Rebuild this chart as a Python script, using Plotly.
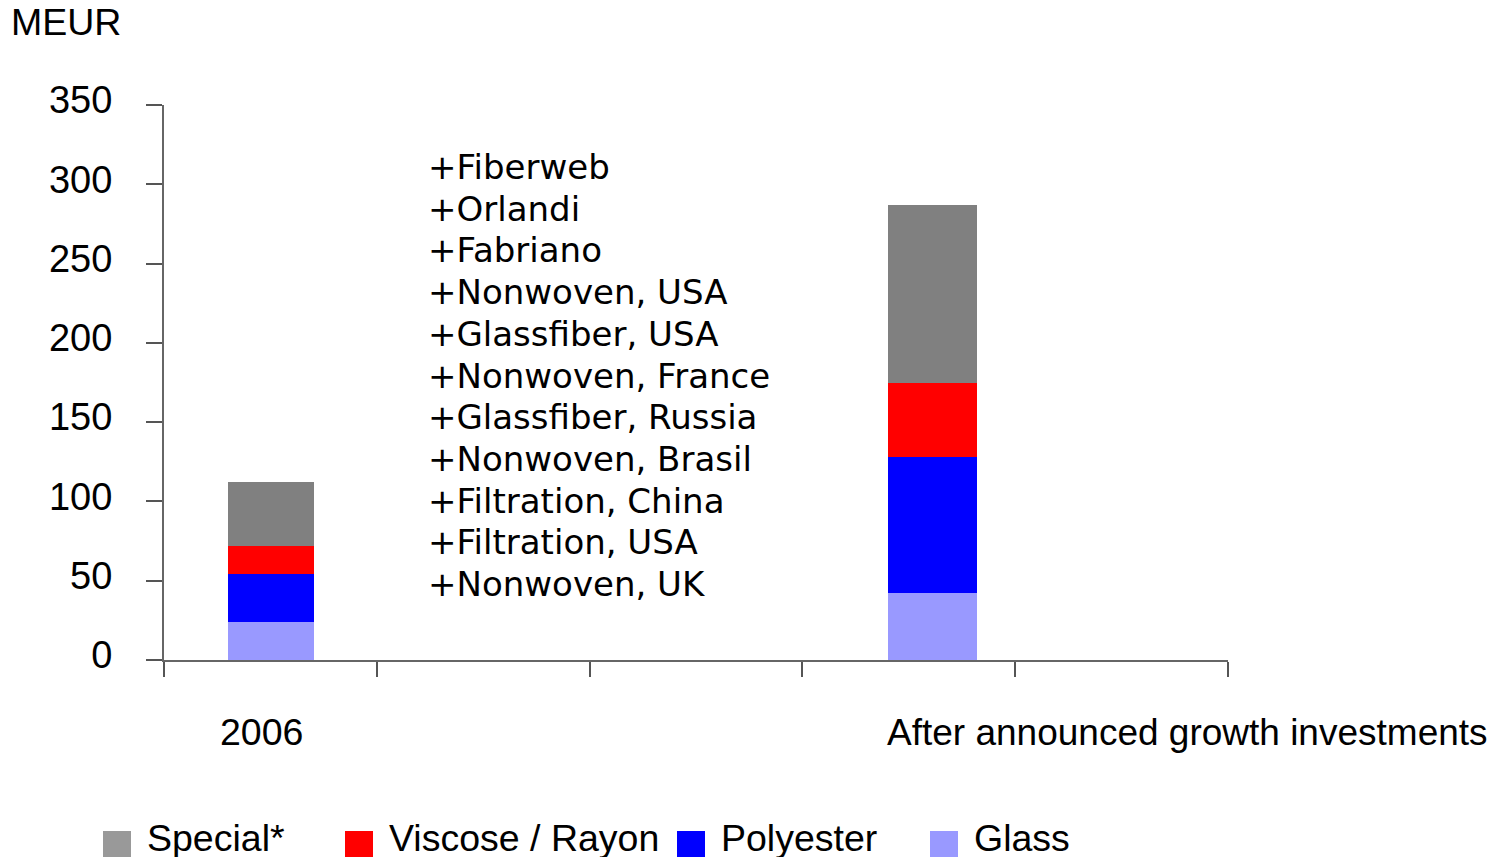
import plotly.graph_objects as go

# ---- data ----
categories = ["2006", "After announced growth investments"]
glass = [24, 42]
polyester = [30, 86]
viscose = [18, 47]
special = [40, 112]
series_names = ["Glass", "Polyester", "Viscose / Rayon", "Special*"]
y_ticks = [0, 50, 100, 150, 200, 250, 300, 350]
acquisitions = ["+Fiberweb", "+Orlandi", "+Fabriano", "+Nonwoven, USA",
                "+Glassfiber, USA", "+Nonwoven, France", "+Glassfiber, Russia",
                "+Nonwoven, Brasil", "+Filtration, China", "+Filtration, USA",
                "+Nonwoven, UK"]

# ---- layout helpers ----
x_pos = [0.503, 3.611]
bar_w = [0.405, 0.42]
colors = {"Glass": "#9999FF", "Polyester": "#0000FF",
          "Viscose / Rayon": "#FF0000", "Special*": "#808080"}
legend_colors = {"Glass": "#9999FF", "Polyester": "#0000FF",
                 "Viscose / Rayon": "#FF0000", "Special*": "#999999"}
ARIAL = "Liberation Sans, Arial, sans-serif"
VERD = "DejaVu Sans, Verdana, sans-serif"

# page offset (body margin) compensation
OFF = 8
FIG_W, FIG_H = 1496 - OFF, 857 - OFF
PLOT_L, PLOT_R, PLOT_T, PLOT_B = 164, 1228, 105, 660  # page pixels
PLOT_W = PLOT_R - PLOT_L
PLOT_H = PLOT_B - PLOT_T


def px_to_paper_x(px):
    return (px - PLOT_L) / PLOT_W


def px_to_paper_y(py):
    return (PLOT_B - py) / PLOT_H


fig = go.Figure()
for name, vals in zip(series_names, [glass, polyester, viscose, special]):
    fig.add_trace(go.Bar(
        x=x_pos, y=vals, width=bar_w, name=name,
        marker=dict(color=colors[name], line=dict(width=0)),
        showlegend=False, hovertext=categories,
    ))

FS = 37.5
annotations = []
# unit label
annotations.append(dict(text="MEUR", xref="paper", yref="paper",
                        x=px_to_paper_x(9), y=px_to_paper_y(22),
                        xanchor="left", yanchor="middle", showarrow=False,
                        font=dict(family=ARIAL, size=FS, color="black")))
# category labels
annotations.append(dict(text=categories[0], xref="x", yref="paper", x=0.46,
                        y=px_to_paper_y(732),
                        xanchor="center", yanchor="middle", showarrow=False,
                        font=dict(family=ARIAL, size=FS, color="black")))
annotations.append(dict(text=categories[1], xref="x", yref="paper", x=3.387,
                        y=px_to_paper_y(732),
                        xanchor="left", yanchor="middle", showarrow=False,
                        font=dict(family=ARIAL, size=37, color="black")))
# acquisitions list
for i, line in enumerate(acquisitions):
    annotations.append(dict(text=line, xref="x", yref="paper", x=1.231,
                            y=px_to_paper_y(167 + 41.7 * i),
                            xanchor="left", yanchor="middle", showarrow=False,
                            font=dict(family=VERD, size=34, color="black")))

# manual legend (large square swatches)
legend_order = ["Special*", "Viscose / Rayon", "Polyester", "Glass"]
legend_x_px = [103, 345, 677, 930]
shapes = []
for name, xp in zip(legend_order, legend_x_px):
    shapes.append(dict(type="rect", xref="paper", yref="paper",
                       x0=px_to_paper_x(xp), x1=px_to_paper_x(xp + 28),
                       y0=px_to_paper_y(858), y1=px_to_paper_y(831),
                       fillcolor=legend_colors[name], line=dict(width=0)))
    annotations.append(dict(text=name, xref="paper", yref="paper",
                            x=px_to_paper_x(xp + 42), y=px_to_paper_y(838),
                            xanchor="left", yanchor="middle", showarrow=False,
                            font=dict(family=ARIAL, size=FS, color="black")))

fig.update_layout(
    width=FIG_W, height=FIG_H, autosize=False,
    margin=dict(l=PLOT_L - OFF, r=FIG_W - (PLOT_R - OFF),
                t=PLOT_T - OFF, b=FIG_H - (PLOT_B - OFF), pad=0),
    barmode="stack",
    plot_bgcolor="white", paper_bgcolor="white",
    showlegend=False,
    annotations=annotations,
    shapes=shapes,
    font=dict(family=ARIAL, color="black"),
)
fig.update_xaxes(range=[0, 5], tickvals=[0, 1, 2, 3, 4, 5], showticklabels=False,
                 ticks="outside", ticklen=15, tickwidth=1.5, tickcolor="#555555",
                 showline=True, linecolor="#666666", linewidth=2,
                 showgrid=False, zeroline=False)
fig.update_yaxes(range=[0, 350], tickvals=y_ticks, ticks="outside", ticklen=16,
                 tickwidth=1.5, tickcolor="#555555",
                 showline=True, linecolor="#666666", linewidth=2,
                 showgrid=False, zeroline=False,
                 tickfont=dict(family=ARIAL, size=38, color="black"),
                 ticklabelstandoff=26, ticklabelshift=-5)

fig.write_html("out.html")
